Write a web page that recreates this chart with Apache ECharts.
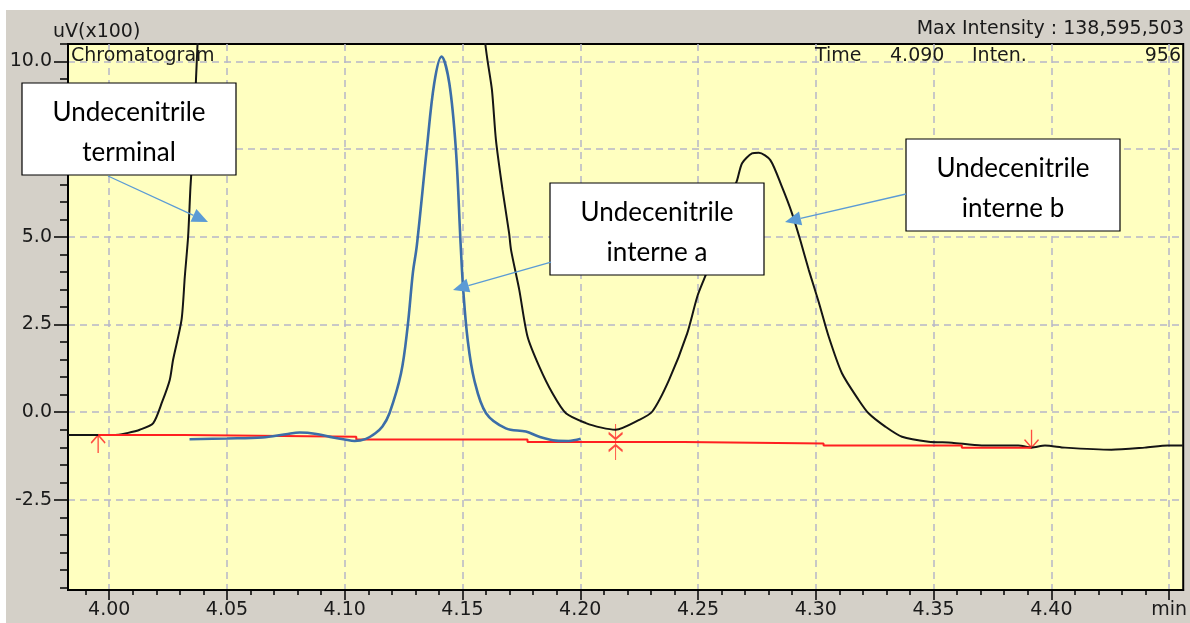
<!DOCTYPE html>
<html>
<head>
<meta charset="utf-8">
<script src="https://cdn.jsdelivr.net/npm/echarts@6/dist/echarts.min.js"></script>
<style>
html, body { margin: 0; padding: 0; background: #fff; }
#main { width: 1190px; height: 623px; }
</style>
</head>
<body>
<div id="main"></div>
<script>
var myChart = echarts.init(document.getElementById('main'));

// black trace (undecenitrile terminal + interne b)
var blackTime = [3.9825, 3.995, 4.004, 4.0074, 4.013, 4.0187, 4.0225, 4.0257, 4.0271, 4.0307, 4.0321,
  4.0335, 4.0345, 4.0353, 4.0362, 4.0375, 4.040, 4.060, 4.090, 4.130, 4.155, 4.1597, 4.1606, 4.1625,
  4.1642, 4.167, 4.1698, 4.1706, 4.1741, 4.1776, 4.1826, 4.1882, 4.1939, 4.2024, 4.2090, 4.2150,
  4.2250, 4.2306, 4.2377, 4.2454, 4.2497, 4.2535, 4.2580, 4.2620, 4.2666, 4.2687, 4.2729, 4.2758,
  4.2807, 4.2856, 4.2899, 4.2934, 4.2970, 4.3012, 4.3055, 4.3111, 4.3182, 4.3224, 4.3295, 4.3366,
  4.3479, 4.3578, 4.3704, 4.3860, 4.3916, 4.3973, 4.4058, 4.4255, 4.4397, 4.4495, 4.4560];
var blackSignal = [-0.65, -0.65, -0.64, -0.60, -0.50, -0.31, 0.30, 0.92, 1.49, 2.63, 3.87,
  5.01, 6.43, 7.29, 8.50, 10.50, 14.0, 40.0, 60.0, 40.0, 14.0, 10.50, 10.04, 9.19,
  7.76, 6.34, 5.10, 4.63, 3.49, 2.16, 1.30, 0.54, -0.03, -0.31, -0.44, -0.50,
  -0.22, 0.02, 0.92, 2.25, 3.30, 3.96, 4.90, 5.80, 6.62, 7.10, 7.38, 7.40,
  7.19, 6.43, 5.67, 4.91, 4.06, 3.15, 2.15, 1.11, 0.35, -0.03, -0.41, -0.70,
  -0.84, -0.87, -0.95, -0.95, -1.01, -0.95, -1.01, -1.07, -1.01, -0.95, -0.95];

// blue trace (undecenitrile interne a)
var blueTime = [4.0341, 4.050, 4.065, 4.075, 4.0809, 4.088, 4.095, 4.100, 4.1042, 4.109, 4.113,
  4.116, 4.119, 4.1239, 4.1267, 4.1289, 4.1306, 4.1348, 4.138, 4.1411, 4.1444, 4.1472, 4.1492,
  4.1503, 4.1522, 4.155, 4.160, 4.1684, 4.1769, 4.1826, 4.1896, 4.195, 4.2002];
var blueSignal = [-0.77, -0.75, -0.72, -0.63, -0.58, -0.62, -0.72, -0.78, -0.82, -0.76, -0.60,
  -0.41, -0.03, 1.11, 2.44, 3.96, 4.75, 7.48, 9.38, 10.14, 9.38, 7.48, 4.80,
  3.49, 2.06, 0.92, -0.03, -0.46, -0.55, -0.70, -0.81, -0.82, -0.76];

// red baseline, one level per segment
var baseTime = [3.9953, 4.032, 4.1049, 4.1776, 4.244, 4.3033, 4.362, 4.3916];
var baseLevel = [-0.65, -0.70, -0.78, -0.85, -0.89, -0.95, -1.01, -1.01];

// peak start / split / end markers on the baseline
var markTime = [3.9953, 4.215, 4.3916];
var markLevel = [-0.65, -0.85, -1.01];

var xTicks = [4.00, 4.05, 4.10, 4.15, 4.20, 4.25, 4.30, 4.35, 4.40, 4.45];
var xTickLabels = ['4.00', '4.05', '4.10', '4.15', '4.20', '4.25', '4.30', '4.35', '4.40', 'min'];
var yTicks = [-2.5, 0, 2.5, 5, 7.5, 10];
var yTickLabels = ['-2.5', '0.0', '2.5', '5.0', '7.5', '10.0'];

var xMin = 3.9825, xMax = 4.456, yMin = -5.07, yMax = 10.5;

// minor tick positions
var xMinor = [];
for (var t = 3.99; t < xMax; t += 0.01) xMinor.push(Math.round(t * 100) / 100);
var yMinor = [];
for (var v = -5; v <= yMax; v += 0.5) yMinor.push(v);

function zip(a, b) {
  return a.map(function (x, i) { return [x, b[i]]; });
}
function labelOf(ticks, labels) {
  return function (val) {
    for (var i = 0; i < ticks.length; i++) {
      if (Math.abs(ticks[i] - val) < 1e-6) return labels[i];
    }
    return '';
  };
}

var font = 'DejaVu Sans';
var noteFont = 'Lato';
var arrowColor = '#5b9bd5';

function note(x, y, line1, line2) {
  return [
    { type: 'rect', z: 100, shape: { x: x, y: y, width: 214, height: 92 },
      style: { fill: '#fff', stroke: '#000', lineWidth: 1.2 } },
    { type: 'text', z: 101, x: x + 107, y: y + 30,
      style: { text: line1, fontFamily: noteFont, fontSize: 26, fill: '#000', align: 'center', verticalAlign: 'middle' } },
    { type: 'text', z: 101, x: x + 107, y: y + 70,
      style: { text: line2, fontFamily: noteFont, fontSize: 26, fill: '#000', align: 'center', verticalAlign: 'middle' } }
  ];
}
function arrow(x1, y1, x2, y2) {
  var dx = x2 - x1, dy = y2 - y1, len = Math.sqrt(dx * dx + dy * dy);
  var ux = dx / len, uy = dy / len, hl = 16, hw = 7;
  var bx = x2 - ux * hl, by = y2 - uy * hl;
  return [
    { type: 'line', z: 100, shape: { x1: x1, y1: y1, x2: bx, y2: by },
      style: { stroke: arrowColor, lineWidth: 1.3 } },
    { type: 'polygon', z: 100, shape: { points: [[x2, y2], [bx - uy * hw, by + ux * hw], [bx + uy * hw, by - ux * hw]] },
      style: { fill: arrowColor } }
  ];
}
function label(x, y, text, align) {
  return { type: 'text', z: 90, x: x, y: y,
    style: { text: text, fontFamily: font, fontSize: 19, fill: '#1a1a1a', align: align || 'left', verticalAlign: 'middle' } };
}

var graphics = [
  { type: 'rect', z: 200, shape: { x: 0, y: 0, width: 1190, height: 10 }, style: { fill: '#fff' } },
  { type: 'rect', z: 200, shape: { x: 0, y: 0, width: 6, height: 623 }, style: { fill: '#fff' } },
  label(53, 32, 'uV(x100)'),
  label(1184, 29, 'Max Intensity : 138,595,503', 'right'),
  label(71, 56, 'Chromatogram'),
  label(815, 56, 'Time'),
  label(890, 56, '4.090'),
  label(972, 56, 'Inten.'),
  label(1181, 56, '956', 'right')
]
  .concat(note(22, 83, 'Undecenitrile', 'terminal'))
  .concat(arrow(108, 176, 208, 222))
  .concat(note(550, 183, 'Undecenitrile', 'interne a'))
  .concat(arrow(551, 262, 453, 290))
  .concat(note(906, 139, 'Undecenitrile', 'interne b'))
  .concat(arrow(906, 194, 785, 222));

var markerSymbols = [
  { symbol: 'path://M7 0 L7 18 M0 8 L7 0 L14 8', symbolSize: [14, 18], symbolOffset: [0, '50%'] },
  { symbol: 'path://M7 0 L7 36 M1 9 L7 15 L13 9 M1 27 L7 21 L13 27', symbolSize: [14, 36], symbolOffset: [0, 0] },
  { symbol: 'path://M7 0 L7 18 M0 10 L7 18 L14 10', symbolSize: [14, 18], symbolOffset: [0, '-50%'] }
];
var markData = markTime.map(function (x, i) {
  return {
    value: [x, markLevel[i]],
    symbol: markerSymbols[i].symbol,
    symbolSize: markerSymbols[i].symbolSize,
    symbolOffset: markerSymbols[i].symbolOffset
  };
});

var gridLine = { show: true, lineStyle: { color: '#b6b6c8', width: 1.5, type: [7, 5] } };

myChart.setOption({
  animation: false,
  backgroundColor: '#d4d0c8',
  grid: {
    left: 68, top: 44, right: 5, bottom: 33,
    show: true, backgroundColor: '#ffffc0', borderColor: '#000', borderWidth: 2
  },
  xAxis: [
    {
      type: 'value', min: xMin, max: xMax, position: 'bottom',
      axisLine: { show: true, onZero: false, lineStyle: { color: '#000', width: 2 } },
      axisTick: { show: true, customValues: xTicks, length: 10, lineStyle: { color: '#000', width: 1.5 } },
      axisLabel: { customValues: xTicks, formatter: labelOf(xTicks, xTickLabels), margin: 11,
        fontFamily: font, fontSize: 19, color: '#1a1a1a' },
      splitLine: gridLine
    },
    {
      type: 'value', min: xMin, max: xMax, position: 'bottom',
      axisLine: { show: false, onZero: false },
      axisTick: { show: true, customValues: xMinor, length: 5, lineStyle: { color: '#000', width: 1.5 } },
      axisLabel: { show: false },
      splitLine: { show: false }
    }
  ],
  yAxis: [
    {
      type: 'value', min: yMin, max: yMax, position: 'left',
      axisLine: { show: true, onZero: false, lineStyle: { color: '#000', width: 2 } },
      axisTick: { show: true, customValues: yTicks, length: 14, lineStyle: { color: '#000', width: 1.5 } },
      axisLabel: { customValues: yTicks, formatter: labelOf(yTicks, yTickLabels), margin: 16,
        fontFamily: font, fontSize: 19, color: '#1a1a1a' },
      splitLine: gridLine
    },
    {
      type: 'value', min: yMin, max: yMax, position: 'left',
      axisLine: { show: false, onZero: false },
      axisTick: { show: true, customValues: yMinor, length: 8, lineStyle: { color: '#000', width: 1.5 } },
      axisLabel: { show: false },
      splitLine: { show: false }
    }
  ],
  series: [
    {
      name: 'Chromatogram', type: 'line', data: zip(blackTime, blackSignal),
      symbol: 'none', clip: true, smooth: 0.25, lineStyle: { color: '#151515', width: 2 }
    },
    {
      name: 'Baseline', type: 'line', step: 'end', data: zip(baseTime, baseLevel),
      symbol: 'none', lineStyle: { color: '#ff2020', width: 2 }
    },
    {
      name: 'Interne a', type: 'line', data: zip(blueTime, blueSignal), smooth: 0.35,
      symbol: 'none', clip: true, lineStyle: { color: '#3c6ea8', width: 2.6 }
    },
    {
      name: 'Marks', type: 'scatter', data: markData,
      itemStyle: { color: 'rgba(0,0,0,0)', borderColor: '#ff2020', borderWidth: 1.5 }
    }
  ],
  graphic: graphics
});
</script>
</body>
</html>
